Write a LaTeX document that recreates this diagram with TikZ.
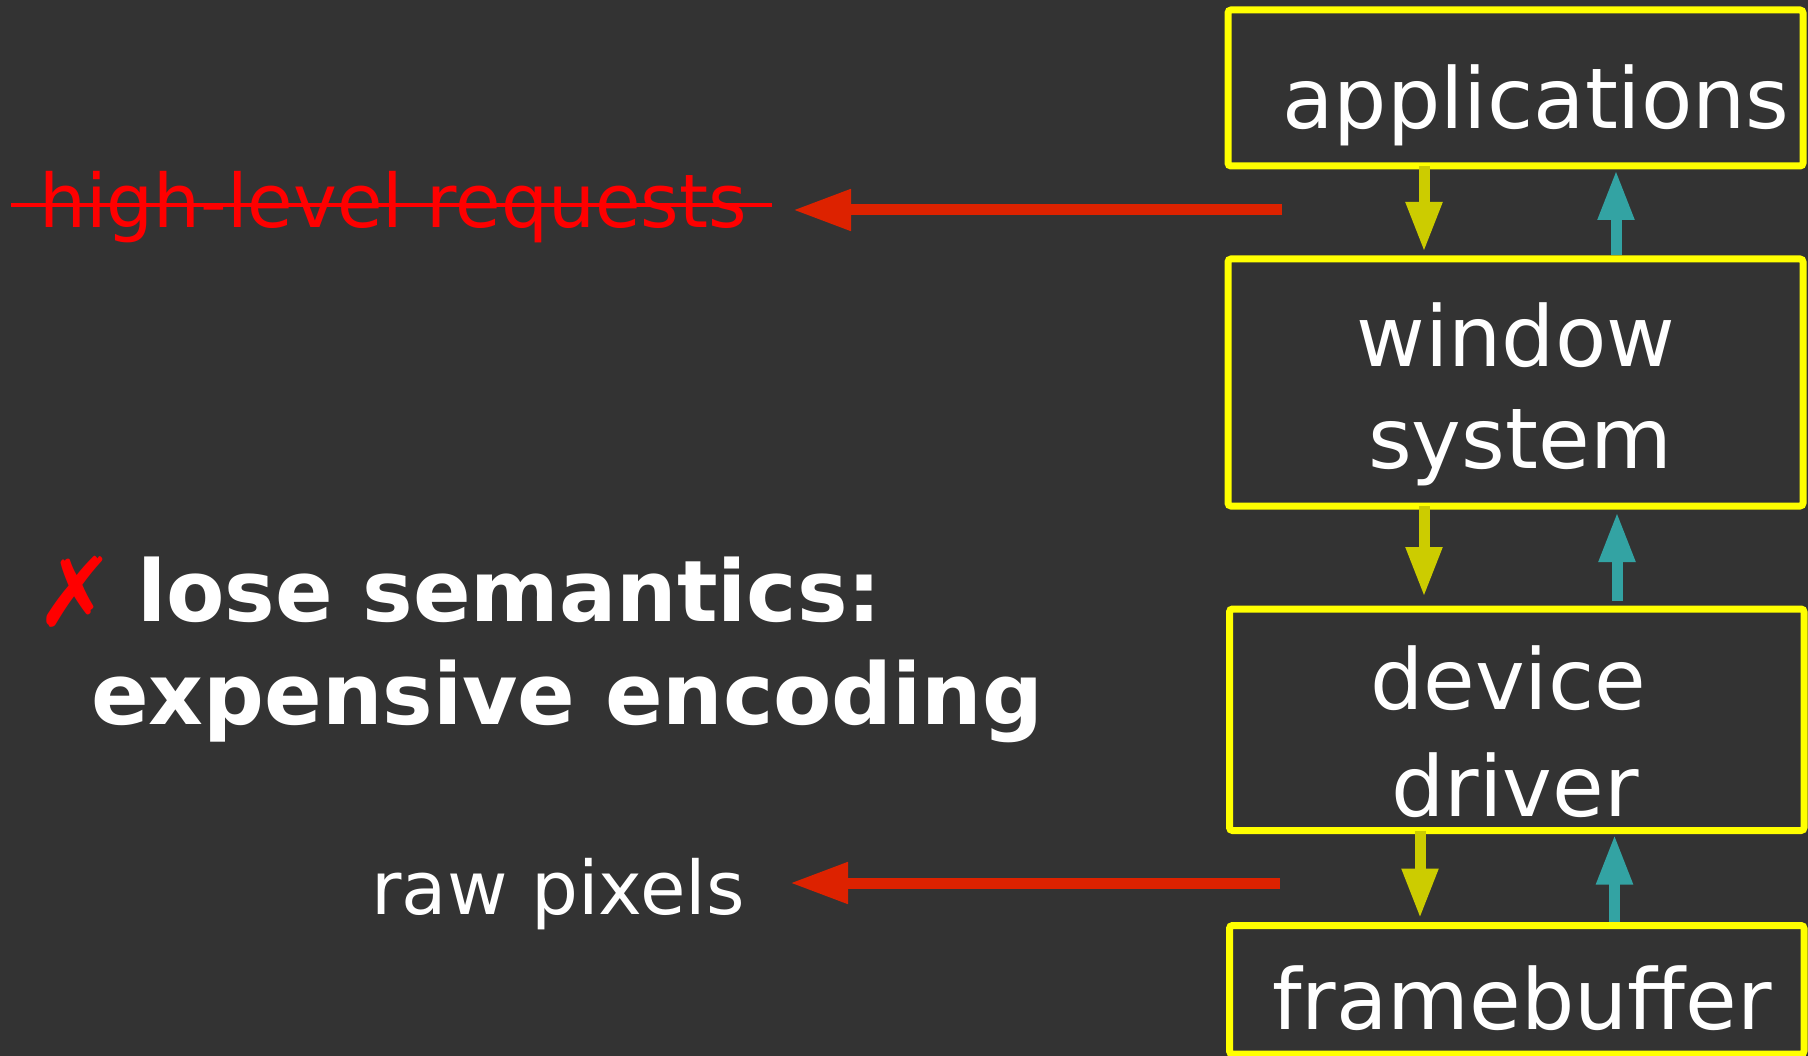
\documentclass[tikz,border=0pt]{standalone}
\usepackage{fontspec}
\setmainfont{DejaVu Sans}
\usetikzlibrary{arrows.meta}

\definecolor{bg}{HTML}{333333}
\definecolor{boxyellow}{HTML}{FFFF00}
\definecolor{downyellow}{HTML}{CCCC00}
\definecolor{upteal}{HTML}{33A3A3}
\definecolor{flowred}{HTML}{DD2200}
\definecolor{textred}{HTML}{FF0000}

\tikzset{
  layerbox/.style={draw=boxyellow, line width=7pt, rounded corners=3pt,
    inner sep=0pt, outer sep=0pt},
  boxlabel/.style={text=white, inner sep=0pt, anchor=base,
    font=\fontsize{84}{100}\selectfont},
  sidelabel/.style={inner sep=0pt, anchor=base,
    font=\fontsize{74}{90}\selectfont},
  boldlabel/.style={text=white, inner sep=0pt, anchor=base west,
    font=\fontsize{85}{100}\selectfont\bfseries},
  downflow/.style={draw=downyellow, line width=11pt,
    -{Triangle[length=50pt, width=34pt]}, shorten >=7pt},
  upflow/.style={draw=upteal, line width=11pt,
    -{Triangle[length=50pt, width=34pt]}, shorten >=4pt, shorten <=4pt},
  lossflow/.style={draw=flowred, line width=11pt,
    -{Triangle[length=58pt, width=39pt]}},
  strike/.style={draw=textred, line width=4pt}
}

\begin{document}
\begin{tikzpicture}[x=1pt, y=-1pt]
  % canvas
  \fill[bg] (0,0) rectangle (1808,1056);
  \useasboundingbox (0,0) rectangle (1808,1056);

  % layer stack
  \node[layerbox, minimum width=575pt, minimum height=156pt] (app) at (1515.5,88) {};
  \node[layerbox, minimum width=575pt, minimum height=247pt] (win) at (1515.5,382.5) {};
  \node[layerbox, minimum width=574.5pt, minimum height=221.5pt] (drv) at (1516.75,719.75) {};
  \node[layerbox, minimum width=574.5pt, minimum height=128.5pt] (fb) at (1516.75,989.75) {};

  \node[boxlabel] (appt) at (1536,129) {applications};
  \node[boxlabel] (wint1) at (1516,367) {window};
  \node[boxlabel] (wint2) at (1520,469) {system};
  \node[boxlabel] (drvt1) at (1508,709) {device};
  \node[boxlabel] (drvt2) at (1515,816) {driver};
  \node[boxlabel] (fbt) at (1522,1029) {framebuffer};

  % arrow columns
  \coordinate (d1) at (1424,0);
  \coordinate (u1) at (1616,0);
  \coordinate (d2) at (1424,0);
  \coordinate (u2) at (1617,0);
  \coordinate (d3) at (1420,0);
  \coordinate (u3) at (1614.5,0);

  % requests going down, events coming up
  \draw[downflow] (app.south -| d1) -- (win.north -| d1);
  \draw[upflow]   (win.north -| u1) -- (app.south -| u1);
  \draw[downflow, shorten >=12pt] (win.south -| d2) -- (drv.north -| d2);
  \draw[upflow, shorten <=8pt, shorten >=6pt] (drv.north -| u2) -- (win.south -| u2);
  \draw[downflow] (drv.south -| d3) -- (fb.north -| d3);
  \draw[upflow]   (fb.north -| u3) -- (drv.south -| u3);

  % what leaves each level
  \node[sidelabel, text=textred] (hl) at (393,228) {high-level requests};
  \draw[strike] ([shift={(-382,-23)}]hl.base) -- ([shift={(379,-23)}]hl.base);
  \node[sidelabel, text=white] (raw) at (558,914) {raw pixels};

  \coordinate (hlsrc) at (1282,210);
  \coordinate (hltip) at (793,210);
  \coordinate (rawsrc) at (1280,883);
  \coordinate (rawtip) at (790,883);
  \draw[lossflow] (hlsrc) -- (hltip);
  \draw[lossflow] (rawsrc) -- (rawtip);

  % verdict
  \node[inner sep=0pt, anchor=base west, text=textred,
        font=\fontsize{96}{100}\selectfont] (xmark) at (35,626) {✗};
  \node[boldlabel] (v1) at (137,621) {lose semantics:};
  \node[boldlabel] (v2) at (91,724) {expensive encoding};
\end{tikzpicture}
\end{document}
